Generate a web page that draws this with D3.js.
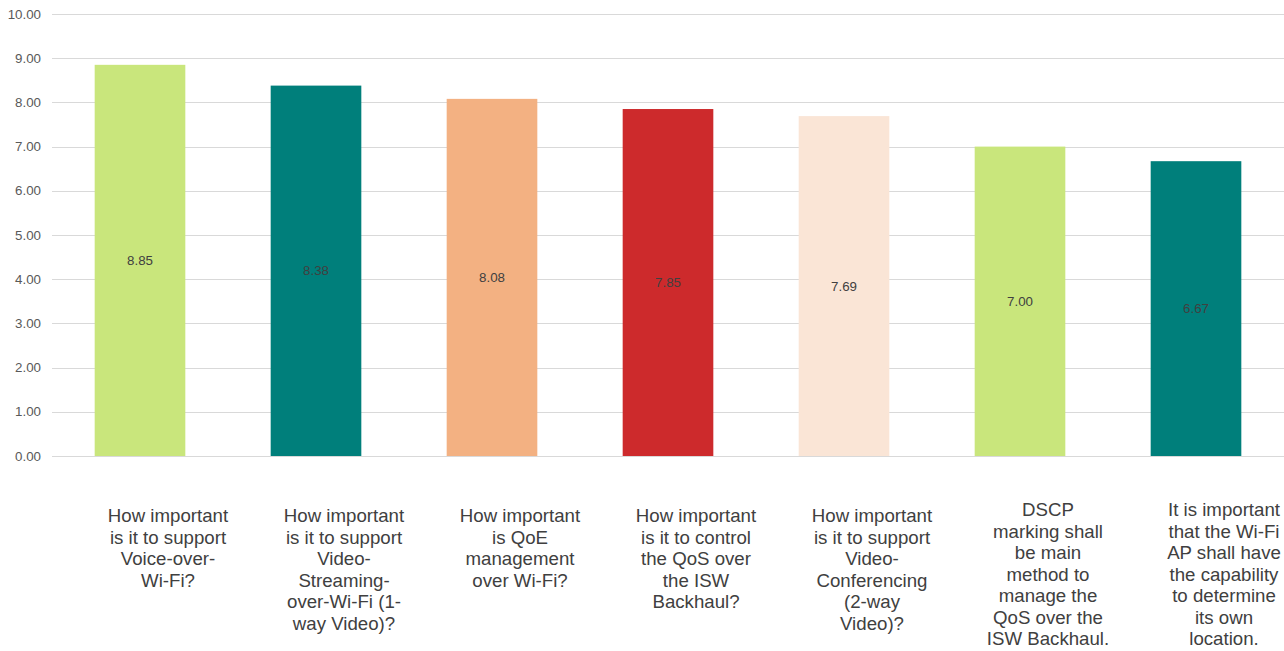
<!DOCTYPE html>
<html>
<head>
<meta charset="utf-8">
<script src="https://cdn.jsdelivr.net/npm/d3@7"></script>
<style>
  body { margin: 0; background: #fff; }
  text { font-family: "Liberation Sans", Arial, sans-serif; }
</style>
</head>
<body>
<div id="chart"></div>
<script>
// data
const categories = [
  ["How important", "is it to support", "Voice-over-", "Wi-Fi?"],
  ["How important", "is it to support", "Video-", "Streaming-", "over-Wi-Fi (1-", "way Video)?"],
  ["How important", "is QoE", "management", "over Wi-Fi?"],
  ["How important", "is it to control", "the QoS over", "the ISW", "Backhaul?"],
  ["How important", "is it to support", "Video-", "Conferencing", "(2-way", "Video)?"],
  ["DSCP", "marking shall", "be main", "method to", "manage the", "QoS over the", "ISW Backhaul."],
  ["It is important", "that the Wi-Fi", "AP shall have", "the capability", "to determine", "its own", "location."]
];
const values = [8.85, 8.38, 8.08, 7.85, 7.69, 7.00, 6.67];
const yTicks = [0, 1, 2, 3, 4, 5, 6, 7, 8, 9, 10];
const barColors = ["#C9E67C", "#007F7B", "#F3B182", "#CD2A2C", "#FAE5D6", "#C9E67C", "#007F7B"];

const width = 1284, height = 651;
const margin = {left: 52, right: 0, top: 14, bottom: 195};

const svg = d3.select("#chart").append("svg")
  .attr("width", width)
  .attr("height", height);

const x = d3.scaleBand()
  .domain(d3.range(values.length))
  .range([margin.left, width - margin.right])
  .paddingInner(0.485)
  .paddingOuter(0.2425);

const y = d3.scaleLinear()
  .domain([0, 10])
  .range([height - margin.bottom, margin.top]);

// grid + y labels
svg.append("g")
  .selectAll("line")
  .data(yTicks)
  .enter()
  .append("line")
  .attr("x1", margin.left)
  .attr("x2", width)
  .attr("y1", d => Math.round(y(d)) + 0.5)
  .attr("y2", d => Math.round(y(d)) + 0.5)
  .attr("stroke", "#d9d9d9")
  .attr("stroke-width", 1);

svg.append("g")
  .selectAll("text")
  .data(yTicks)
  .enter()
  .append("text")
  .attr("x", 41)
  .attr("y", d => y(d))
  .attr("dy", "0.35em")
  .attr("text-anchor", "end")
  .attr("font-size", "13.33px")
  .attr("fill", "#595959")
  .text(d => d.toFixed(2));

// bars
svg.append("g")
  .selectAll("rect")
  .data(values)
  .enter()
  .append("rect")
  .attr("x", (d, i) => x(i))
  .attr("width", x.bandwidth())
  .attr("y", d => y(d))
  .attr("height", d => y(0) - y(d))
  .attr("fill", (d, i) => barColors[i]);

// value labels in the middle
svg.append("g")
  .selectAll("text")
  .data(values)
  .enter()
  .append("text")
  .attr("x", (d, i) => x(i) + x.bandwidth() / 2)
  .attr("y", d => y(d / 2))
  .attr("dy", "0.35em")
  .attr("text-anchor", "middle")
  .attr("font-size", "13.33px")
  .attr("fill", "#404040")
  .text(d => d.toFixed(2));

// category labels (excel puts them a bit right of the bar centre)
const lineH = 21.5;
const labelShift = 28;
const catG = svg.append("g")
  .selectAll("text")
  .data(categories)
  .enter()
  .append("text")
  .attr("text-anchor", "middle")
  .attr("font-size", "18.67px")
  .attr("fill", "#404040")
  .attr("transform", (d, i) => {
    const y0 = Math.min(522, 645 - (d.length - 1) * lineH);
    return `translate(${x(i) + x.bandwidth() / 2 + labelShift},${y0})`;
  });

catG.selectAll("tspan")
  .data(d => d)
  .enter()
  .append("tspan")
  .attr("x", 0)
  .attr("y", (d, j) => j * lineH)
  .text(d => d);
</script>
</body>
</html>
